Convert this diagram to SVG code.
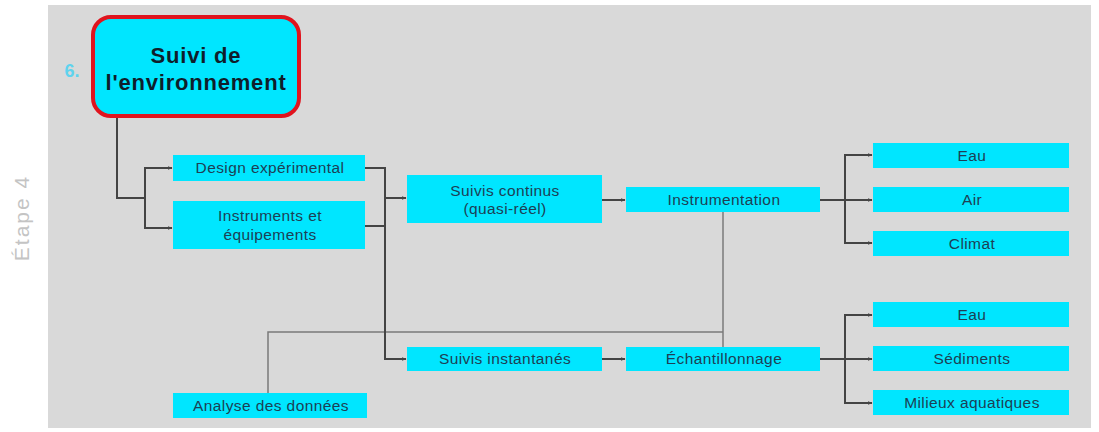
<svg xmlns="http://www.w3.org/2000/svg" width="1099" height="432" viewBox="0 0 1099 432">
<defs>
<marker id="ah" viewBox="0 0 10 10" refX="9" refY="5" markerWidth="5" markerHeight="5" orient="auto" markerUnits="userSpaceOnUse">
<path d="M0,1 L10,5 L0,9 z" fill="#444"/>
</marker>
<style>
.box{fill:#00e6ff}
.lbl{font-family:"Liberation Sans",Arial,sans-serif;font-size:15.5px;letter-spacing:0.4px;fill:#1d3f55;text-anchor:middle}
.ttl{font-family:"Liberation Sans",Arial,sans-serif;font-size:22px;letter-spacing:0.8px;font-weight:bold;fill:#0f1e2b;text-anchor:middle}
.con{fill:none;stroke:#444;stroke-width:2}
.con2{fill:none;stroke:#7a7a7a;stroke-width:1.5}
</style>
</defs>
<rect x="0" y="0" width="1099" height="432" fill="#ffffff"/>
<rect x="48" y="5" width="1043" height="423" fill="#d9d9d9"/>
<text x="0" y="0" transform="translate(29,218) rotate(-90)" font-family="Liberation Sans,Arial,sans-serif" font-size="21" letter-spacing="2" fill="#c4c4c4" text-anchor="middle">Étape 4</text>

<g id="connectors">
<polyline class="con2" points="723,212 723,347"/>
<polyline class="con2" points="723,332 268,332 268,393"/>
<polyline class="con" points="117,117 117,198 145,198"/>
<polyline class="con" points="145,198 145,168 172,168" marker-end="url(#ah)"/>
<polyline class="con" points="145,198 145,228 172,228" marker-end="url(#ah)"/>
<polyline class="con" points="365,168 385,168 385,226 365,226"/>
<polyline class="con" points="385,198 406,198" marker-end="url(#ah)"/>
<polyline class="con" points="385,226 385,359 406,359" marker-end="url(#ah)"/>
<polyline class="con" points="602,200 625,200" marker-end="url(#ah)"/>
<polyline class="con" points="602,359 625,359" marker-end="url(#ah)"/>
<polyline class="con" points="820,200 872,200" marker-end="url(#ah)"/>
<polyline class="con" points="845,200 845,155 872,155" marker-end="url(#ah)"/>
<polyline class="con" points="845,200 845,243 872,243" marker-end="url(#ah)"/>
<polyline class="con" points="820,359 872,359" marker-end="url(#ah)"/>
<polyline class="con" points="845,359 845,315 872,315" marker-end="url(#ah)"/>
<polyline class="con" points="845,359 845,403 872,403" marker-end="url(#ah)"/>
</g>

<g id="n-main">
<rect x="93" y="17" width="206" height="99" rx="18" fill="#00e6ff" stroke="#e0141e" stroke-width="4"/>
<text class="ttl" x="196" y="63">Suivi de</text>
<text class="ttl" x="196" y="90">l'environnement</text>
<text x="72" y="77" font-family="Liberation Sans,Arial,sans-serif" font-size="18" font-weight="bold" fill="#5fd3ee" text-anchor="middle">6.</text>
</g>

<g id="n-design"><rect class="box" x="173" y="155" width="192" height="26"/><text class="lbl" x="270" y="173">Design expérimental</text></g>
<g id="n-instruments"><rect class="box" x="173" y="201" width="192" height="48"/><text class="lbl" x="270" y="221">Instruments et</text><text class="lbl" x="270" y="240">équipements</text></g>
<g id="n-continus"><rect class="box" x="407" y="175" width="195" height="48"/><text class="lbl" x="505" y="196">Suivis continus</text><text class="lbl" x="505" y="214">(quasi-réel)</text></g>
<g id="n-instrumentation"><rect class="box" x="626" y="187" width="194" height="25"/><text class="lbl" x="724" y="205">Instrumentation</text></g>
<g id="n-eau1"><rect class="box" x="873" y="143" width="196" height="25"/><text class="lbl" x="972" y="161">Eau</text></g>
<g id="n-air"><rect class="box" x="873" y="187" width="196" height="25"/><text class="lbl" x="972" y="205">Air</text></g>
<g id="n-climat"><rect class="box" x="873" y="231" width="196" height="25"/><text class="lbl" x="972" y="249">Climat</text></g>
<g id="n-instantanes"><rect class="box" x="407" y="347" width="195" height="24"/><text class="lbl" x="505" y="364">Suivis instantanés</text></g>
<g id="n-echantillonnage"><rect class="box" x="626" y="347" width="194" height="24"/><text class="lbl" x="724" y="364">Échantillonnage</text></g>
<g id="n-eau2"><rect class="box" x="873" y="302" width="196" height="25"/><text class="lbl" x="972" y="320">Eau</text></g>
<g id="n-sediments"><rect class="box" x="873" y="346" width="196" height="25"/><text class="lbl" x="972" y="364">Sédiments</text></g>
<g id="n-milieux"><rect class="box" x="873" y="390" width="196" height="25"/><text class="lbl" x="972" y="408">Milieux aquatiques</text></g>
<g id="n-analyse"><rect class="box" x="173" y="393" width="194" height="25"/><text class="lbl" x="271" y="411">Analyse des données</text></g>
</svg>
